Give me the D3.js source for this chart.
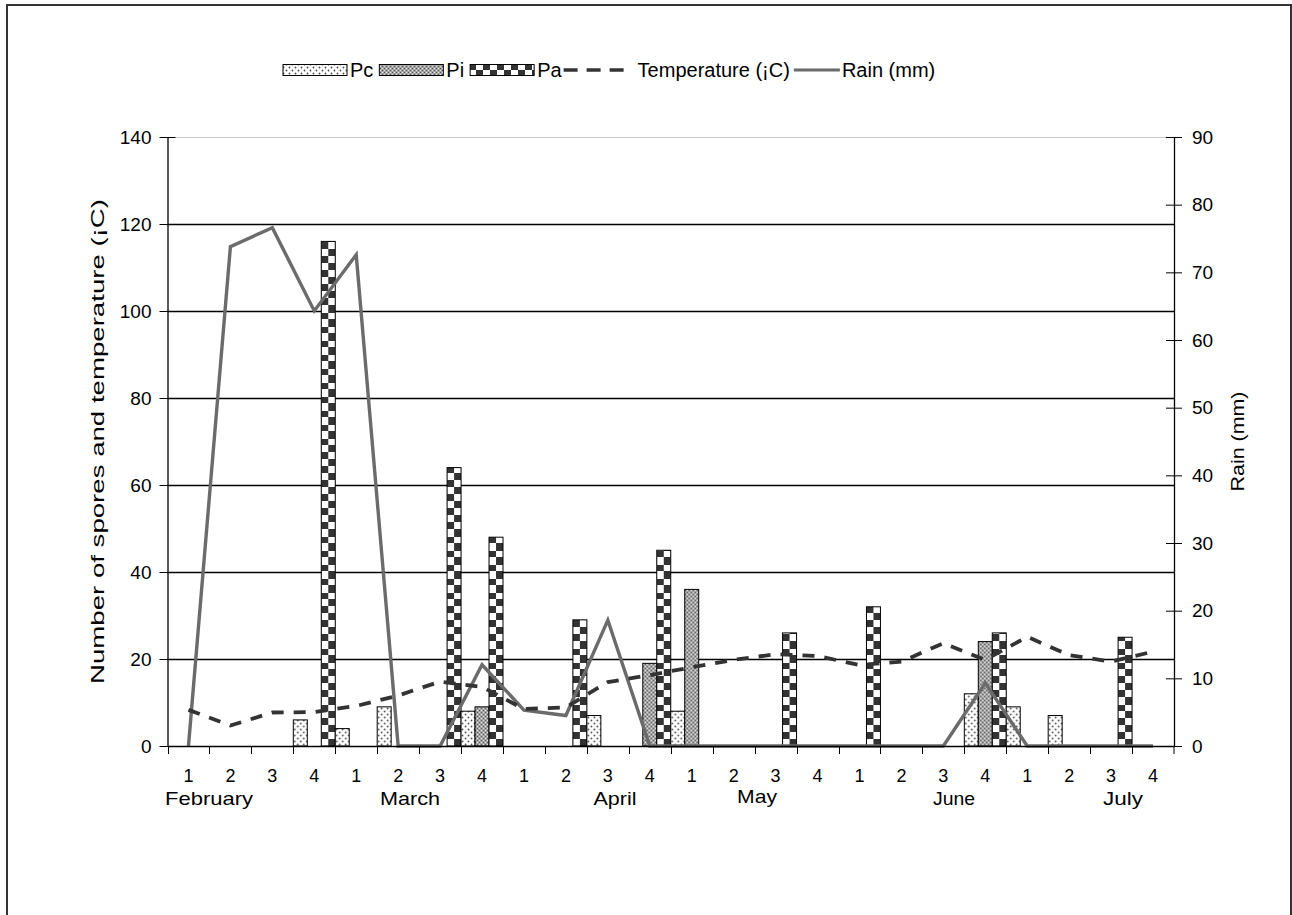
<!DOCTYPE html>
<html>
<head>
<meta charset="utf-8">
<script src="https://cdn.jsdelivr.net/npm/d3@7"></script>
<style>
  html, body { margin: 0; padding: 0; background: #fff; }
  svg { display: block; font-family: Arial, "Liberation Sans", sans-serif; }
</style>
</head>
<body>
<svg id="chart" width="1292" height="915"></svg>
<script>
// ---- Data ----
const months = ["February", "March", "April", "May", "June", "July"];
const weeks = ["1", "2", "3", "4"];
const categories = months.flatMap(m => weeks.map(w => m + "-" + w));
const weekLabels = months.flatMap(() => weeks);

const pc = [0, 0, 0, 6, 4, 9, 0, 8, 0, 0, 7, 0, 8, 0, 0, 0, 0, 0, 0, 12, 9, 7, 0, 0];
const pi = [0, 0, 0, 0, 0, 0, 0, 9, 0, 0, 0, 19, 36, 0, 0, 0, 0, 0, 0, 24, 0, 0, 0, 0];
const pa = [0, 0, 0, 116, 0, 0, 64, 48, 0, 29, 0, 45, 0, 0, 26, 0, 32, 0, 0, 26, 0, 0, 25, 0];
const temperature = [8.3, 4.7, 7.7, 7.8, 9.2, 11.6, 14.8, 13.6, 8.5, 8.9, 14.7, 16.3, 18.1, 19.8, 21.1, 20.7, 18.6, 19.4, 23.6, 19.8, 25.1, 20.9, 19.4, 21.7];
const rain = [0, 73.8, 76.6, 64.3, 72.6, 0, 0, 12, 5.3, 4.5, 18.6, 0, 0, 0, 0, 0, 0, 0, 0, 9.3, 0, 0, 0, 0];

const leftTicks = [0, 20, 40, 60, 80, 100, 120, 140];
const rightTicks = [0, 10, 20, 30, 40, 50, 60, 70, 80, 90];
const seriesNames = ["Pc", "Pi", "Pa"];

// ---- Layout ----
const svg = d3.select("#chart");
const X0 = 167.5, X1 = 1174, YT = 137, YB = 746;
const FONT = "Arial, 'Liberation Sans', sans-serif";

const x = d3.scaleBand().domain(categories).range([X0, X1]).padding(0);
const xSub = d3.scaleBand().domain(seriesNames).range([0, x.bandwidth()]).padding(0);
const yL = d3.scaleLinear().domain([0, 140]).range([YB, YT]);
const yR = d3.scaleLinear().domain([0, 90]).range([YB, YT]);
const crisp = v => Math.round(v) + 0.5;

// ---- Patterns ----
const defs = svg.append("defs");
const pPc = defs.append("pattern").attr("id", "pat-pc").attr("patternUnits", "userSpaceOnUse")
  .attr("width", 6).attr("height", 6);
pPc.append("rect").attr("width", 6).attr("height", 6).attr("fill", "#fff");
pPc.append("circle").attr("cx", 1.5).attr("cy", 1.5).attr("r", 0.9).attr("fill", "#4a4a4a");
pPc.append("circle").attr("cx", 4.5).attr("cy", 4.5).attr("r", 0.9).attr("fill", "#4a4a4a");

const pPi = defs.append("pattern").attr("id", "pat-pi").attr("patternUnits", "userSpaceOnUse")
  .attr("width", 4).attr("height", 4);
pPi.append("rect").attr("width", 4).attr("height", 4).attr("fill", "#a4a4a4");
[[0, 0, "#555"], [2, 2, "#555"], [2, 0, "#eee"], [0, 2, "#ddd"]].forEach(([px, py, c]) =>
  pPi.append("rect").attr("x", px).attr("y", py).attr("width", 1).attr("height", 1).attr("fill", c));

const cs = 7;
const pPa = defs.append("pattern").attr("id", "pat-pa").attr("patternUnits", "userSpaceOnUse")
  .attr("width", cs * 2).attr("height", cs * 2);
pPa.append("rect").attr("width", cs * 2).attr("height", cs * 2).attr("fill", "#fff");
pPa.append("rect").attr("x", 0).attr("y", 0).attr("width", cs).attr("height", cs).attr("fill", "#333");
pPa.append("rect").attr("x", cs).attr("y", cs).attr("width", cs).attr("height", cs).attr("fill", "#333");
const patFill = { Pc: "url(#pat-pc)", Pi: "url(#pat-pi)", Pa: "url(#pat-pa)" };

// ---- Outer border ----
svg.append("rect").attr("x", 7).attr("y", 5).attr("width", 1284).attr("height", 930)
  .attr("fill", "none").attr("stroke", "#333").attr("stroke-width", 2);

// ---- Gridlines ----
svg.append("g").selectAll("line").data(leftTicks.filter(t => t > 0 && t < 140)).join("line")
  .attr("x1", X0).attr("x2", X1).attr("y1", d => crisp(yL(d))).attr("y2", d => crisp(yL(d)))
  .attr("stroke", "#000").attr("stroke-width", 1.3);
svg.append("line").attr("x1", X0).attr("x2", X1).attr("y1", crisp(YT)).attr("y2", crisp(YT))
  .attr("stroke", "#c8c8c8").attr("stroke-width", 1);

// ---- Bars ----
const barData = [];
categories.forEach((c, i) => {
  [["Pc", pc[i]], ["Pi", pi[i]], ["Pa", pa[i]]].forEach(([s, v]) => {
    if (v > 0) barData.push({ c, s, v });
  });
});
svg.append("g").selectAll("g").data(barData).join("g")
  .attr("transform", d => `translate(${x(d.c) + xSub(d.s)},${YB})`)
  .append("rect")
  .attr("x", 0).attr("width", xSub.bandwidth())
  .attr("y", d => yL(d.v) - YB).attr("height", d => YB - yL(d.v))
  .attr("fill", d => patFill[d.s]).attr("stroke", "#000").attr("stroke-width", 1);

// ---- Lines ----
const cx = (c) => x(c) + x.bandwidth() / 2;
svg.append("path").datum(rain)
  .attr("d", d3.line().x((d, i) => cx(categories[i])).y(d => yR(d)))
  .attr("fill", "none").attr("stroke", "#6b6b6b").attr("stroke-width", 3.4)
  .attr("stroke-linejoin", "miter");
svg.append("path").datum(temperature)
  .attr("d", d3.line().x((d, i) => cx(categories[i])).y(d => yL(d)))
  .attr("fill", "none").attr("stroke", "#333").attr("stroke-width", 3.8)
  .attr("stroke-dasharray", "12,10");

// ---- Axes ----
const axisFont = 19;
const gL = svg.append("g").attr("transform", `translate(${X0},0)`)
  .call(d3.axisLeft(yL).tickValues(leftTicks).tickSize(8).tickPadding(8).tickSizeOuter(0));
gL.selectAll(".tick line").attr("x2", -8).attr("x1", 8);
const gR = svg.append("g").attr("transform", `translate(${X1},0)`)
  .call(d3.axisRight(yR).tickValues(rightTicks).tickSize(8).tickPadding(10).tickSizeOuter(0));
gR.selectAll(".tick line").attr("x1", -8).attr("x2", 8);
const gB = svg.append("g").attr("transform", `translate(0,${YB})`)
  .call(d3.axisBottom(x).tickValues([]).tickSizeOuter(0));
gB.selectAll("line.wk").data(categories).join("line").attr("class", "wk")
  .attr("x1", d => crisp(x(d))).attr("x2", d => crisp(x(d))).attr("y1", 0).attr("y2", 8)
  .attr("stroke", "#000");
gB.append("line").attr("x1", X1).attr("x2", X1).attr("y1", 0).attr("y2", 8).attr("stroke", "#000");
gB.selectAll("text.wk").data(categories).join("text").attr("class", "wk")
  .attr("x", d => cx(d)).attr("y", 36).attr("text-anchor", "middle")
  .attr("font-size", 18).attr("font-family", FONT).attr("fill", "#000")
  .text((d, i) => weekLabels[i]);

[gL, gR, gB].forEach(g => {
  g.selectAll(".domain").attr("stroke", "#000").attr("stroke-width", 1.3);
  g.selectAll(".tick line").attr("stroke", "#000");
  g.selectAll(".tick text").attr("font-size", axisFont).attr("fill", "#000")
    .attr("font-family", FONT);
});

// Month labels
const monthX = [209, 410, 615, 757, 954, 1123];
const monthY = [805, 805, 805, 803, 805, 805];
svg.append("g").selectAll("text").data(months).join("text")
  .attr("x", (d, i) => monthX[i]).attr("y", (d, i) => monthY[i])
  .attr("text-anchor", "middle").attr("font-size", 19).attr("font-family", FONT)
  .attr("textLength", (d, i) => [88, 60, 43, 40, 42, 40][i]).attr("lengthAdjust", "spacingAndGlyphs")
  .text(d => d);

// Axis titles
svg.append("text").attr("transform", `translate(104,${(YT + YB) / 2}) rotate(-90)`)
  .attr("text-anchor", "middle").attr("font-size", 19).attr("font-family", FONT)
  .attr("textLength", 485).attr("lengthAdjust", "spacingAndGlyphs")
  .text("Number of spores and temperature (¡C)");
svg.append("text").attr("transform", `translate(1244,${(YT + YB) / 2}) rotate(-90)`)
  .attr("text-anchor", "middle").attr("font-size", 19).attr("font-family", FONT)
  .attr("textLength", 100).attr("lengthAdjust", "spacingAndGlyphs")
  .text("Rain (mm)");

// ---- Legend ----
const lg = svg.append("g").attr("font-size", 20).attr("font-family", FONT);
const ly = 70;
const swW = 64, swH = 11;
let lx = 283;
seriesNames.forEach(name => {
  lg.append("rect").attr("x", lx).attr("y", ly - swH / 2).attr("width", swW).attr("height", swH)
    .attr("fill", patFill[name]).attr("stroke", "#000").attr("stroke-width", 1);
  const t = lg.append("text").attr("x", lx + swW + 3).attr("y", ly + 7).text(name);
  lx = lx + swW + 3 + t.node().getComputedTextLength() + 6;
});
lx -= 4;
lg.append("line").attr("x1", lx).attr("x2", lx + 60).attr("y1", ly).attr("y2", ly)
  .attr("stroke", "#333").attr("stroke-width", 3.5).attr("stroke-dasharray", "14,9");
lx += 74;
const tt = lg.append("text").attr("x", lx).attr("y", ly + 7).text("Temperature (¡C)");
lx += tt.node().getComputedTextLength() + 4;
lg.append("line").attr("x1", lx).attr("x2", lx + 46).attr("y1", ly).attr("y2", ly)
  .attr("stroke", "#6b6b6b").attr("stroke-width", 3);
lg.append("text").attr("x", lx + 48).attr("y", ly + 7).text("Rain (mm)");
</script>
</body>
</html>
